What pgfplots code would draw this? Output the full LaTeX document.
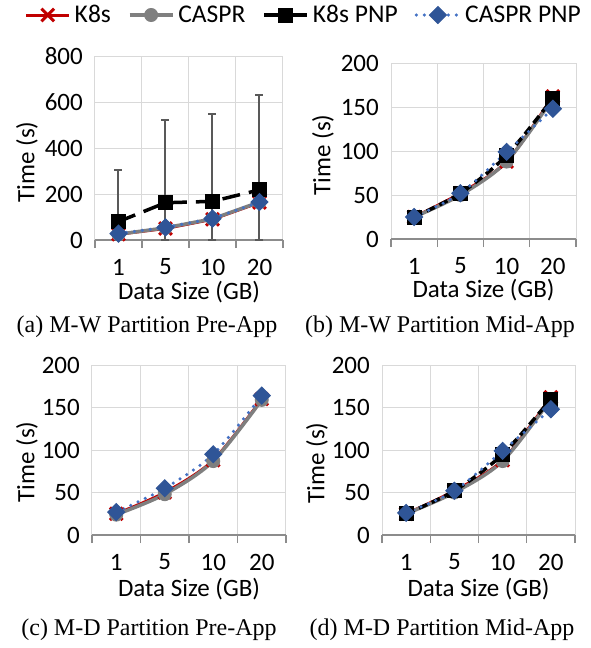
\documentclass[border=0pt]{standalone}
\usepackage{fontspec}
\setmainfont{Liberation Serif}
\newfontfamily\calibri{Carlito}
\usepackage{pgfplots}
\pgfplotsset{compat=1.18}

\newcommand\cf{\calibri\fontsize{25}{30}\selectfont}
\newcommand\lf{\calibri\fontsize{25.5}{30}\selectfont}
\newcommand\capf{\fontsize{24}{28}\selectfont}

\definecolor{kred}{HTML}{C00000}
\definecolor{cgray}{HTML}{7F7F7F}
\definecolor{pblue}{HTML}{2F5597}
\definecolor{dblue}{HTML}{4472C4}
\definecolor{gridc}{HTML}{D9D9D9}
\definecolor{axc}{HTML}{8C8C8C}
\definecolor{errc}{HTML}{595959}

\pgfplotsset{
  panel/.style={
    scale only axis, anchor=south west,
    xmin=0.5, xmax=4.5,
    xtick={1,2,3,4}, xticklabels={1,5,10,20},
    minor xtick={0.5,1.5,2.5,3.5,4.5},
    xminorgrids=true, ymajorgrids=true,
    grid style={draw=gridc, line width=1pt},
    minor grid style={draw=gridc, line width=1pt},
    axis x line*=bottom, axis y line*=left,
    y axis line style={draw=none},
    x axis line style={draw=axc, line width=1.3pt, -},
    major tick length=0pt, minor tick length=8pt,
    tick align=outside,
    major x tick style={draw=none}, ytick style={draw=none},
    minor x tick style={draw=axc, line width=1.3pt},
    tick label style={font=\cf, inner sep=0pt},
    label style={font=\cf, inner sep=0pt},
    /pgf/number format/assume math mode=true,
    xticklabel style={anchor=center, yshift=-27pt},
    yticklabel style={anchor=east, xshift=-12pt},
    xlabel={Data Size (GB)}, ylabel={Time (s)},
  },
  k8s/.style={kred, line width=3pt, mark=x, mark size=9pt, mark options={solid, line width=3pt}},
  caspr/.style={cgray, line width=3.5pt, mark=*, mark size=6.5pt, mark options={solid, line width=1pt}},
  kpnp/.style={black, line width=3.5pt, dash pattern=on 18pt off 9pt, mark=square*, mark size=7pt, mark options={solid, line width=1pt}},
  cpnp/.style={dblue, line width=3.5pt, line cap=round, dash pattern=on 0pt off 8pt,
    mark=square*, mark size=6pt, mark options={solid, rotate=45, draw=pblue, fill=pblue, line width=1pt}},
}

\begin{document}
\begin{tikzpicture}
\path[use as bounding box] (0pt,0pt) rectangle (591pt,-648pt);

% (a) M-W Pre-App
\begin{axis}[panel, at={(95pt,-240pt)}, width=188pt, height=184pt,
  ymin=0, ymax=800, ytick={0,200,400,600,800},
  xlabel style={at={(rel axis cs:0.5,-0.321)}, anchor=base},
  ylabel style={at={(rel axis cs:-0.362,0.424)}, anchor=center, rotate=0},
  legend columns=4,
  legend style={at={(1.108,1.2228)}, anchor=center, draw=none, fill=none, font=\lf,
    nodes={inner sep=1pt},
    /tikz/every odd column/.append style={column sep=3pt},
    /tikz/every even column/.append style={column sep=16pt}},
  legend image code/.code={
    \draw[mark repeat=2, mark phase=2, #1] plot coordinates {(0pt,0pt) (21.5pt,0pt) (43pt,0pt)};},
]
\addlegendimage{k8s}
\addlegendimage{caspr}
\addlegendimage{kpnp, solid}
\addlegendimage{cpnp}
\legend{K8s, CASPR, K8s PNP, CASPR PNP}
\addplot[k8s] coordinates {(1,25) (2,50) (3,90) (4,163)};
\addplot[caspr] coordinates {(1,25) (2,53) (3,92) (4,165)};
\addplot[kpnp, error bars/.cd, y dir=both, y explicit,
  error bar style={draw=errc, line width=2pt, solid},
  error mark options={rotate=90, draw=errc, line width=2pt, mark size=4pt, solid}]
  coordinates {(1,80) += (0,225) -= (0,80)
               (2,162) += (0,360) -= (0,162)
               (3,168) += (0,380) -= (0,168)
               (4,218) += (0,414) -= (0,218)};
\addplot[cpnp] coordinates {(1,28) (2,55) (3,93) (4,165)};
\end{axis}

% (b) M-W Mid-App
\begin{axis}[panel, at={(391pt,-239pt)}, width=185pt, height=176pt,
  ymin=0, ymax=200, ytick={0,50,100,150,200},
  xlabel style={at={(rel axis cs:0.5,-0.335)}, anchor=base},
  ylabel style={at={(rel axis cs:-0.368,0.477)}, anchor=center, rotate=0},
]
\addplot[k8s, smooth] coordinates {(1,25) (2,52) (3,88) (4,162)};
\addplot[caspr, smooth] coordinates {(1,25) (2,50) (3,88) (4,160)};
\addplot[kpnp, smooth, dash pattern=on 9pt off 5pt] coordinates {(1,25) (2,52) (3,95) (4,160)};
\addplot[cpnp, smooth] coordinates {(1,25) (2,52) (3,99) (4,148)};
\end{axis}

% (c) M-D Pre-App
\begin{axis}[panel, at={(92pt,-535pt)}, width=194pt, height=170pt,
  ymin=0, ymax=200, ytick={0,50,100,150,200},
  xlabel style={at={(rel axis cs:0.5,-0.359)}, anchor=base},
  ylabel style={at={(rel axis cs:-0.335,0.429)}, anchor=center, rotate=0},
]
\addplot[k8s, smooth] coordinates {(1,25) (2,50) (3,88) (4,160)};
\addplot[caspr, smooth] coordinates {(1,24) (2,48) (3,87) (4,159)};
\addplot[cpnp, smooth] coordinates {(1,27) (2,55) (3,95) (4,164)};
\end{axis}

% (d) M-D Mid-App
\begin{axis}[panel, at={(382pt,-535pt)}, width=193pt, height=170pt,
  ymin=0, ymax=200, ytick={0,50,100,150,200},
  xlabel style={at={(rel axis cs:0.5,-0.359)}, anchor=base},
  ylabel style={at={(rel axis cs:-0.337,0.424)}, anchor=center, rotate=0},
]
\addplot[k8s, smooth] coordinates {(1,25) (2,52) (3,88) (4,162)};
\addplot[caspr, smooth] coordinates {(1,25) (2,50) (3,87) (4,160)};
\addplot[kpnp, smooth, dash pattern=on 9pt off 5pt] coordinates {(1,25) (2,52) (3,95) (4,160)};
\addplot[cpnp, smooth] coordinates {(1,26) (2,52) (3,99) (4,148)};
\end{axis}

\node[font=\capf] at (147pt,-327pt) {(a) M-W Partition Pre-App};
\node[font=\capf] at (440pt,-327pt) {(b) M-W Partition Mid-App};
\node[font=\capf] at (149pt,-630pt) {(c) M-D Partition Pre-App};
\node[font=\capf] at (442pt,-630pt) {(d) M-D Partition Mid-App};
\end{tikzpicture}
\end{document}
